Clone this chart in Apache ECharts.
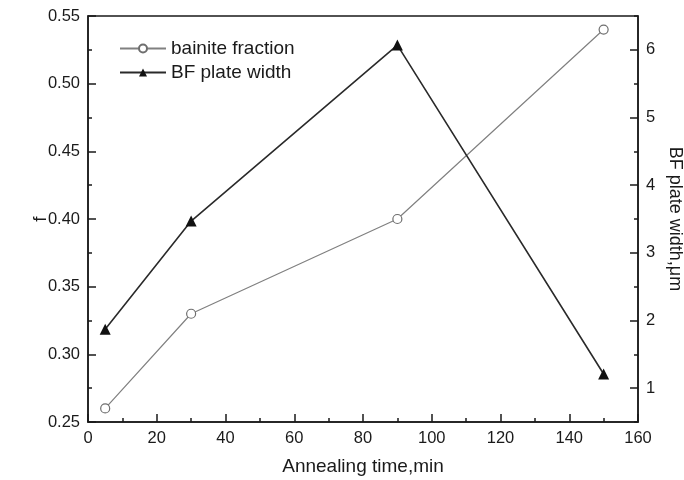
<!DOCTYPE html>
<html>
<head>
<meta charset="utf-8">
<script src="https://cdn.jsdelivr.net/npm/echarts@6/dist/echarts.min.js"></script>
<style>
  html, body { margin: 0; padding: 0; background: #fff; }
  #chart { width: 684px; height: 480px; }
</style>
</head>
<body>
<div id="chart"></div>
<script>
// annealing time (min)
var annealTime = [5, 30, 90, 150]
// bainite volume fraction f (left axis)
var bainiteFraction = [0.26, 0.33, 0.40, 0.54]
// BF plate width, um (right axis)
var plateWidth = [1.87, 3.47, 6.07, 1.21]
var rightTicks = [1, 2, 3, 4, 5, 6]

var font = 'Liberation Sans, Arial, sans-serif'
var ink = '#1a1a1a'

function pairs(xs, ys) {
  return xs.map(function (x, i) { return [x, ys[i]] })
}

var chart = echarts.init(document.getElementById('chart'))
chart.setOption({
  animation: false,
  backgroundColor: '#fff',
  textStyle: { fontFamily: font },
  grid: {
    left: 88,
    right: 46,
    top: 16,
    bottom: 58,
    outerBoundsMode: 'none',
    containLabel: false,
    show: true,
    borderColor: ink,
    borderWidth: 1.5
  },
  legend: {
    left: 114,
    top: 34,
    orient: 'vertical',
    itemWidth: 46,
    itemHeight: 10,
    itemGap: 5,
    textStyle: { fontSize: 19, color: ink, fontFamily: font },
    data: ['bainite fraction', 'BF plate width']
  },
  xAxis: {
    type: 'value',
    min: 0,
    max: 160,
    interval: 20,
    name: 'Annealing time,min',
    nameLocation: 'middle',
    nameGap: 35,
    nameTextStyle: { fontSize: 19, color: ink },
    axisLine: { lineStyle: { color: ink, width: 1.5 } },
    axisTick: { inside: true, length: 8, lineStyle: { color: ink, width: 1.5 } },
    minorTick: { show: true, splitNumber: 2, length: 4, lineStyle: { color: ink, width: 1.5 } },
    axisLabel: { fontSize: 16.5, color: ink, margin: 8 },
    splitLine: { show: false }
  },
  yAxis: [
    {
      type: 'value',
      position: 'left',
      min: 0.25,
      max: 0.55,
      interval: 0.05,
      name: 'f',
      nameLocation: 'middle',
      nameGap: 38,
      nameMoveOverlap: false,
      nameTextStyle: { fontSize: 19, color: ink },
      axisLine: { show: true, lineStyle: { color: ink, width: 1.5 } },
      axisTick: { show: true, inside: true, length: 8, lineStyle: { color: ink, width: 1.5 } },
      minorTick: { show: true, splitNumber: 2, length: 4, lineStyle: { color: ink, width: 1.5 } },
      axisLabel: {
        fontSize: 16.5, color: ink, margin: 8,
        formatter: function (v) { return v.toFixed(2) }
      },
      splitLine: { show: false }
    },
    {
      type: 'value',
      position: 'right',
      min: 0.5,
      max: 6.5,
      name: 'BF plate width,\u03bcm',
      nameLocation: 'middle',
      nameGap: 28,
      nameRotate: -90,
      nameTextStyle: { fontSize: 18, color: ink },
      axisLine: { show: true, lineStyle: { color: ink, width: 1.5 } },
      axisTick: { show: true, inside: true, length: 8, customValues: rightTicks, lineStyle: { color: ink, width: 1.5 } },
      axisLabel: { fontSize: 16.5, color: ink, margin: 8, customValues: rightTicks },
      splitLine: { show: false }
    },
    {
      // minor ticks for the right axis
      type: 'value',
      position: 'right',
      min: 0.5,
      max: 6.5,
      interval: 0.5,
      axisLine: { show: false },
      axisTick: { show: true, inside: true, length: 4, lineStyle: { color: ink, width: 1.5 } },
      axisLabel: { show: false },
      splitLine: { show: false }
    }
  ],
  series: [
    {
      name: 'bainite fraction',
      type: 'line',
      yAxisIndex: 0,
      data: pairs(annealTime, bainiteFraction),
      symbol: 'circle',
      symbolSize: 9,
      itemStyle: { color: '#fff', borderColor: '#6e6e6e', borderWidth: 1.2 },
      lineStyle: { color: '#808080', width: 1.2 },
      z: 3
    },
    {
      name: 'BF plate width',
      type: 'line',
      yAxisIndex: 1,
      data: pairs(annealTime, plateWidth),
      symbol: 'triangle',
      symbolSize: 11,
      itemStyle: { color: '#111' },
      lineStyle: { color: '#2a2a2a', width: 1.6 },
      z: 4
    }
  ]
})
</script>
</body>
</html>
